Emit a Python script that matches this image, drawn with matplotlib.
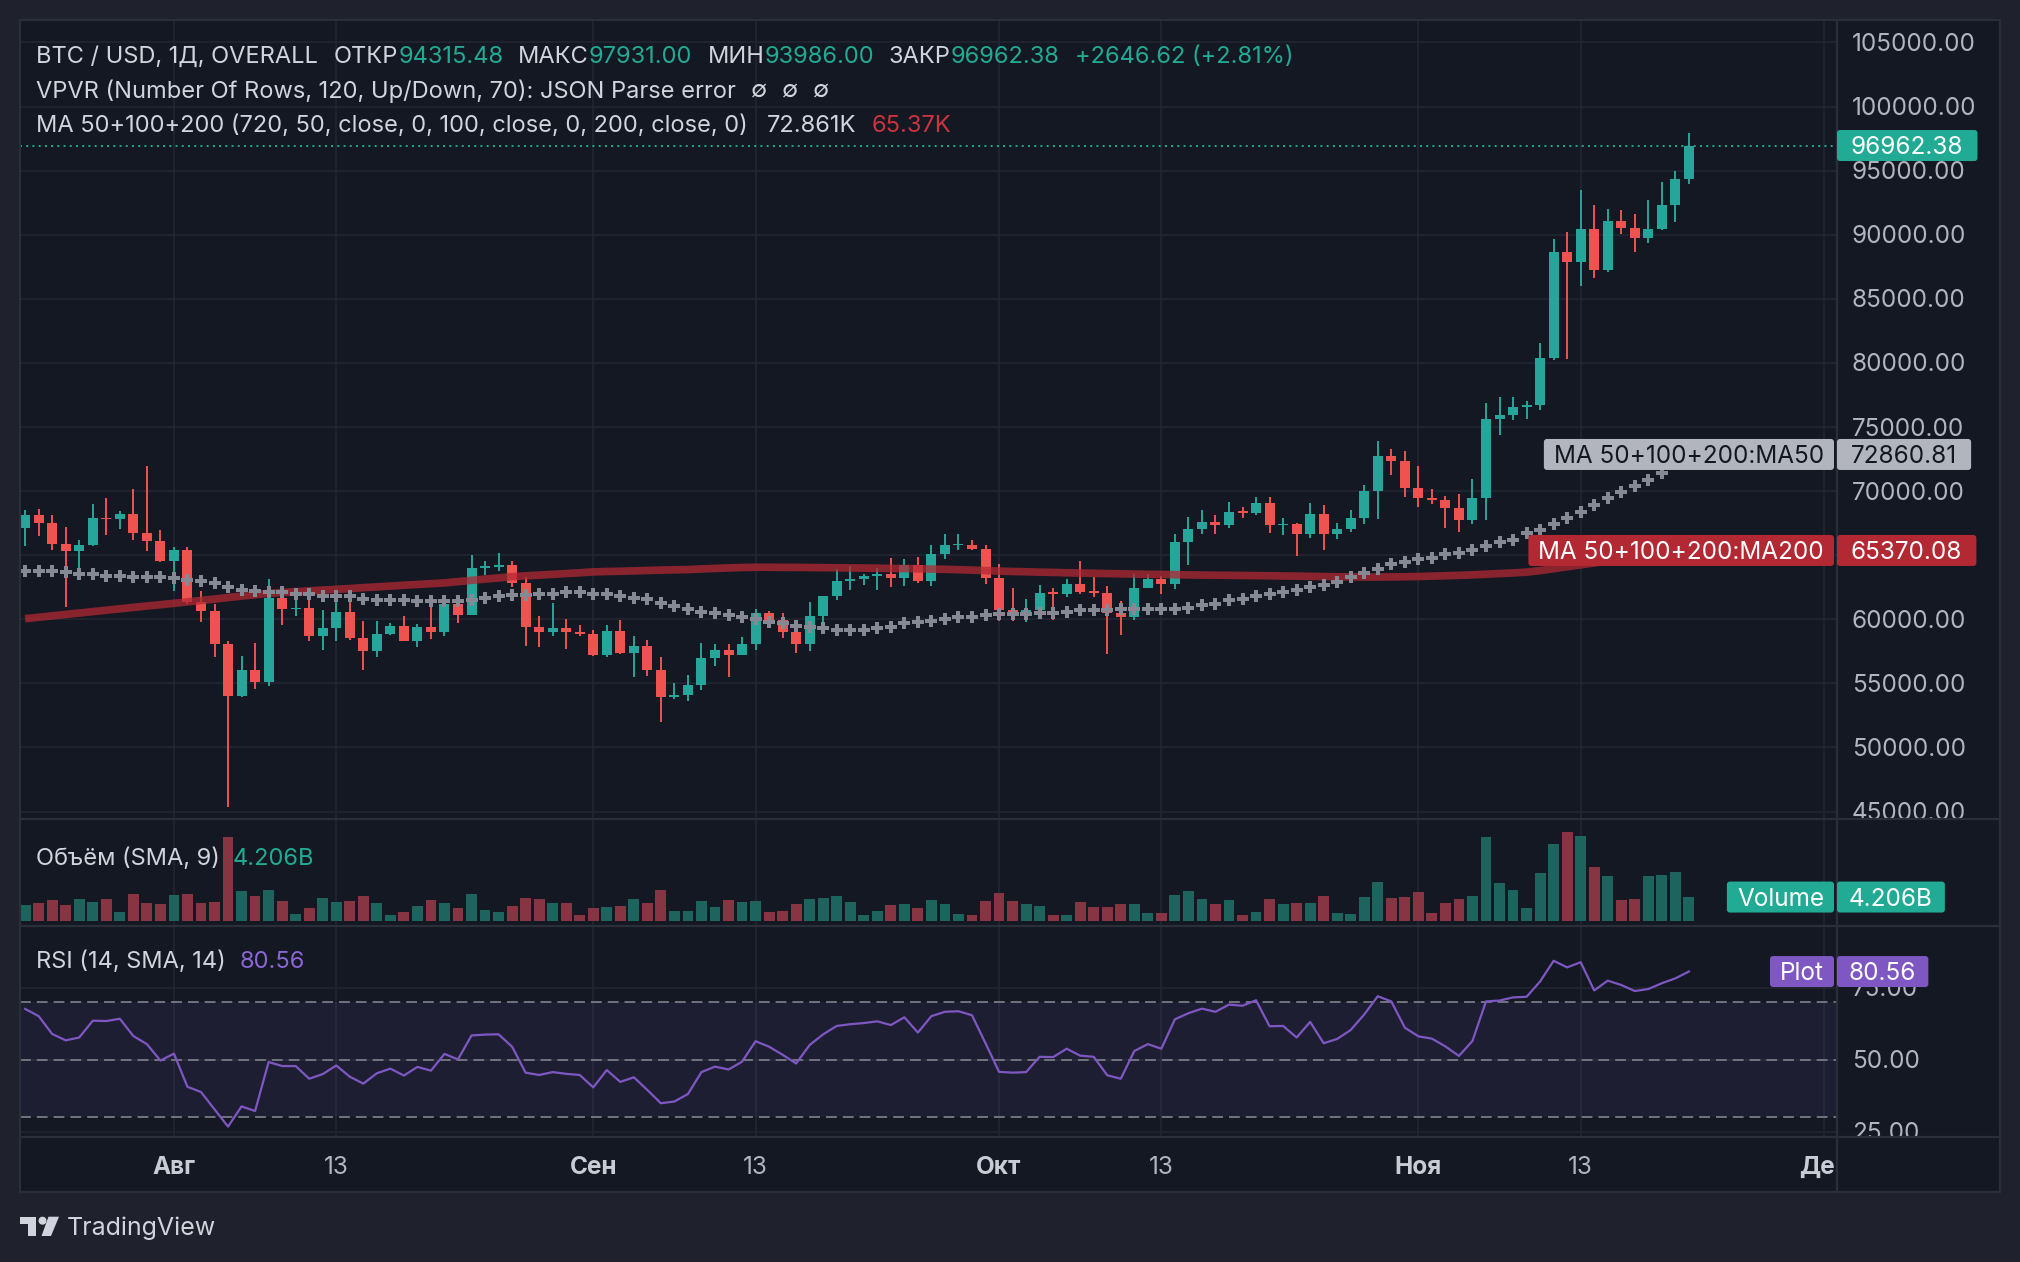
import numpy as np
import pandas as pd
import matplotlib
matplotlib.use("Agg")
import matplotlib.pyplot as plt
from matplotlib.patches import Rectangle, FancyBboxPatch, Circle, Polygon
from matplotlib.lines import Line2D
from matplotlib.transforms import IdentityTransform, offset_copy

W, H = 2020, 1262
FONT = ["Inter", "DejaVu Sans"]

# daily candles, 21 Jul 2024 .. 21 Nov 2024
dates = pd.date_range("2024-07-21", "2024-11-21", freq="D")

open_ = [
    67110, 68100, 67500, 65860, 65310, 65760, 67870, 67810, 68230, 66720, 66090,
    64530, 65370, 61380, 60630, 58050, 53990, 56070, 55080, 61670, 60780, 60860, 58670, 59320, 60600, 58570, 57500,
    58880, 59480, 58330, 59430, 58990, 61200, 60310, 64040, 64090, 64270, 62810, 59380, 58990, 59350, 59040,
    58860, 57240, 59120, 57400, 57940, 56070, 53910, 54120, 54900, 57010, 57630, 57240, 58100, 60520, 59980,
    59040, 58100, 60290, 61800, 62970, 63180, 63360, 63570, 63260, 64270, 63020, 65130, 65760, 65830, 65520,
    63260, 60760, 60600, 60760, 62080, 62000, 62790, 62160, 62080, 60520, 60210, 62470, 63180, 62790, 66070, 67080,
    67630, 67320, 68410, 68310, 69040, 67320, 67400, 66620, 68180, 66620, 67080, 67940, 69975, 72710, 72350,
    70240, 69455, 69300, 68675, 67740, 69455, 75600, 75910, 76540, 76700, 80370, 88650, 87870, 90440, 87240,
    91070, 90550, 89770, 90440, 92320, 94315.48,
]
high = [
    68490, 68570, 68100, 67240, 66220, 68960, 69500, 68440, 70130, 71930, 66930,
    65680, 65680, 62240, 61200, 58330, 57160, 58180, 63180, 61700, 61590, 61720, 60760, 61720, 61980, 59900, 59900,
    59740, 60290, 59640, 61720, 61800, 61460, 65030, 64580, 65210, 64580, 63280, 60290, 61300, 60050, 59580,
    59170, 59580, 59980, 58670, 58410, 57080, 55050, 55680, 58180, 58100, 58100, 58650, 60830, 60680, 60520,
    59350, 61380, 61850, 63960, 64190, 63570, 64040, 64820, 64740, 64900, 65830, 66620, 66690, 66150, 65760,
    64350, 62470, 61620, 62710, 62470, 63180, 64580, 63330, 62630, 61460, 63570, 63570, 63410, 66620, 68020, 68490,
    68100, 69120, 68800, 69510, 69580, 67940, 67550, 69040, 68880, 67550, 68490, 70440, 73880, 73260, 73100,
    71930, 70130, 69585, 69740, 70910, 76850, 77320, 77320, 77010, 81540, 89660, 90210, 93490, 92320, 92010,
    91930, 91620, 92710, 94110, 94970, 97931.00,
]
low = [
    65755, 66530, 65440, 60940, 63540, 65700, 66540, 67030, 66220, 65310, 64450,
    62190, 61200, 59820, 57080, 45390, 53910, 54530, 54770, 59530, 60240, 58280, 57630, 58310, 58410, 56070, 57080,
    58780, 58300, 57810, 58490, 58730, 59690, 60300, 63490, 63750, 62500, 57940, 57810, 58670, 57660, 58730,
    57160, 57080, 57290, 55520, 55600, 52010, 53750, 53600, 54510, 56380, 55520, 57200, 57630, 59350, 58570,
    57400, 57500, 59190, 61540, 62320, 62710, 62320, 62550, 62630, 62870, 62630, 64740, 65370, 65440, 62790,
    59900, 59900, 59820, 60290, 59980, 61770, 62010, 61770, 57320, 58800, 59980, 62450, 62010, 62400, 64270, 66620,
    66620, 67160, 67940, 68100, 66770, 66540, 64970, 66380, 65440, 66300, 66850, 67470, 67815, 71230, 69530,
    68750, 68990, 67110, 66800, 67420, 67740, 74380, 75520, 75600, 76300, 80240, 80310, 86020, 86620, 87110,
    90080, 88670, 89380, 90390, 91020, 93986.00,
]
close = [
    68100, 67500, 65860, 65310, 65760, 67870, 67810, 68230, 66720, 66090, 64530,
    65370, 61380, 60630, 58050, 53990, 56070, 55080, 61670, 60780, 60860, 58670, 59320, 60600, 58570, 57500, 58880,
    59480, 58330, 59430, 58990, 61200, 60310, 64040, 64090, 64270, 62810, 59380, 58990, 59350, 59040, 58860,
    57240, 59120, 57400, 57940, 56070, 53910, 54120, 54900, 57010, 57630, 57240, 58100, 60520, 59980, 59040,
    58100, 60290, 61800, 62970, 63180, 63360, 63570, 63260, 64270, 63020, 65130, 65760, 65830, 65520, 63260,
    60760, 60600, 60760, 62080, 62000, 62790, 62160, 62080, 60520, 60210, 62470, 63180, 62790, 66070, 67080, 67630,
    67320, 68410, 68310, 69040, 67320, 67400, 66620, 68180, 66620, 67080, 67940, 69975, 72710, 72350, 70240,
    69455, 69300, 68675, 67740, 69455, 75600, 75910, 76540, 76700, 80370, 88650, 87870, 90440, 87240, 91070,
    90550, 89770, 90440, 92320, 94315.76, 96962.38,
]
volume_b = [
    2.78, 3.14, 3.67, 2.78, 3.85, 3.32, 3.85, 1.54, 4.74, 3.14, 2.96,
    4.56, 4.74, 3.14, 3.32, 14.87, 5.27, 4.38, 5.45, 3.50, 1.18, 2.25, 4.03, 3.32, 3.50, 4.38, 3.14,
    1.01, 1.54, 2.61, 3.67, 3.14, 2.25, 4.74, 1.90, 1.54, 2.61, 4.03, 3.85, 3.14, 3.14, 1.01,
    2.25, 2.43, 2.61, 3.85, 3.14, 5.45, 1.72, 1.72, 3.50, 2.43, 3.67, 3.32, 3.50, 1.54, 1.72,
    2.96, 3.85, 4.03, 4.38, 3.32, 1.01, 1.72, 2.78, 2.96, 2.25, 3.67, 2.96, 1.18, 1.01, 3.50,
    4.92, 3.50, 2.96, 2.61, 1.01, 1.01, 3.32, 2.43, 2.43, 2.96, 2.96, 1.36, 1.36, 4.56, 5.27, 3.85,
    2.96, 3.67, 1.01, 1.54, 3.85, 2.96, 3.14, 3.14, 4.38, 1.36, 1.18, 4.21, 6.87, 4.03, 4.21,
    5.09, 1.36, 3.14, 3.85, 4.38, 14.87, 6.69, 5.45, 2.25, 8.47, 13.63, 15.76, 15.05, 9.54, 7.94,
    3.67, 3.85, 7.94, 8.12, 8.65, 4.206,
]
ma50 = [
    63800, 63800, 63750, 63700, 63500, 63500, 63400, 63400, 63300, 63300, 63300,
    63200, 63100, 63000, 62800, 62550, 62300, 62200, 62100, 62100, 62000, 62000, 61850, 61850, 61800, 61600, 61500,
    61500, 61500, 61450, 61450, 61450, 61450, 61500, 61700, 61850, 61900, 61900, 62000, 62000, 62100, 62100,
    62000, 62000, 61850, 61700, 61600, 61300, 61000, 60800, 60600, 60500, 60300, 60200, 60000, 59800, 59700,
    59500, 59400, 59300, 59200, 59200, 59200, 59300, 59400, 59700, 59800, 59900, 60000, 60200, 60200, 60300,
    60400, 60400, 60400, 60500, 60500, 60600, 60700, 60700, 60700, 60800, 60800, 60800, 60800, 60800, 60900, 61100,
    61200, 61500, 61600, 61800, 62000, 62100, 62300, 62500, 62700, 62900, 63300, 63600, 63900, 64300, 64500,
    64700, 64800, 65100, 65200, 65400, 65700, 66000, 66200, 66700, 67000, 67400, 67900, 68400, 68900, 69500,
    69900, 70400, 70900, 71400, 72100, 72860.81,
]
ma200 = [
    60050, 60160, 60270, 60380, 60490, 60600, 60710, 60820, 60930, 61040, 61140,
    61250, 61360, 61470, 61580, 61700, 61810, 61920, 62030, 62090, 62160, 62220, 62280, 62340, 62400, 62470, 62530,
    62590, 62660, 62720, 62780, 62840, 62940, 63040, 63140, 63230, 63330, 63390, 63450, 63510, 63570, 63630,
    63700, 63730, 63750, 63780, 63810, 63840, 63860, 63880, 63930, 63970, 64010, 64040, 64060, 64060, 64050,
    64050, 64040, 64030, 64020, 64010, 64000, 63990, 63970, 63960, 63940, 63920, 63900, 63870, 63840, 63800,
    63760, 63730, 63710, 63680, 63660, 63630, 63610, 63590, 63570, 63550, 63530, 63510, 63500, 63480, 63470, 63450,
    63440, 63430, 63420, 63410, 63400, 63380, 63370, 63350, 63340, 63320, 63310, 63300, 63300, 63310, 63320,
    63340, 63370, 63400, 63430, 63470, 63520, 63570, 63620, 63680, 63800, 63950, 64100, 64250, 64400, 64550,
    64700, 64830, 64960, 65090, 65230, 65370.08,
]
rsi = [
    67.6, 65.1, 58.9, 56.7, 57.7, 63.5, 63.4, 64.2, 58.2, 55.4, 49.7,
    52.1, 40.6, 38.8, 32.8, 26.8, 33.8, 32.2, 49.2, 47.8, 47.8, 43.4, 45.0, 48.0, 44.1, 41.7, 45.3,
    46.9, 44.5, 47.5, 46.2, 52.0, 50.1, 58.4, 58.7, 58.8, 54.5, 45.5, 44.7, 45.7, 45.1, 44.7,
    40.4, 46.4, 42.3, 43.9, 39.5, 34.9, 35.5, 38.1, 45.7, 47.6, 46.6, 49.3, 56.4, 54.5, 51.7,
    48.7, 55.1, 58.8, 61.7, 62.3, 62.7, 63.3, 62.0, 64.7, 59.4, 65.1, 66.6, 66.8, 65.4, 55.7,
    45.8, 45.5, 45.7, 51.0, 50.9, 53.8, 51.4, 51.0, 44.6, 43.4, 53.0, 55.4, 53.8, 64.0, 66.1, 67.7,
    66.6, 69.1, 68.7, 70.6, 61.6, 61.7, 57.7, 63.1, 55.7, 57.2, 60.3, 65.7, 72.0, 70.2, 61.1,
    58.1, 57.3, 54.6, 51.3, 56.5, 70.2, 70.5, 71.6, 71.8, 77.1, 84.3, 82.0, 83.8, 74.0, 77.4,
    75.9, 73.8, 74.5, 76.5, 78.2, 80.56,
]

price_ticks = list(range(45000, 105001, 5000))
rsi_ticks = [25, 50, 75]
rsi_levels = [30, 50, 70]
month_names = {8: "Авг", 9: "Сен", 10: "Окт", 11: "Ноя", 12: "Дек"}

BG = "#141823"
FRAME = "#1f222d"
BORDER = "#2a2e39"
GRID = "#222632"
TXT = "#d1d4dc"
AXTXT = "#b2b5be"
UP = "#26a69a"
DOWN = "#ef5350"
TEAL = "#22ab94"
VOL_UP = "#1d645e"
VOL_DOWN = "#873542"
PURPLE = "#7e57c2"

HEAD_FS = 17
AX_FS = 17.5

x = np.arange(len(dates))
o, h, l, c = (np.array(v, dtype=float) for v in (open_, high, low, close))
up = c >= o
XLIM = (-0.38, 133.95)

fig = plt.figure(figsize=(W / 100, H / 100), dpi=100, facecolor=FRAME)
renderer = fig.canvas.get_renderer()


def add_ax(left, top, right, bottom):
    ax = fig.add_axes([left / W, 1 - bottom / H, (right - left) / W, (bottom - top) / H])
    ax.set_facecolor(BG)
    ax.set_xticks([])
    ax.set_yticks([])
    for s in ax.spines.values():
        s.set_visible(False)
    return ax


ax_main = add_ax(20, 20, 1837, 818)
ax_vol = add_ax(20, 820, 1837, 925)
ax_rsi = add_ax(20, 927, 1837, 1137)
ax_time = add_ax(20, 1137, 1837, 1191)
sc_main = add_ax(1837, 20, 2000, 818)
sc_vol = add_ax(1837, 820, 2000, 925)
sc_rsi = add_ax(1837, 927, 2000, 1137)
sc_time = add_ax(1837, 1137, 2000, 1191)

for ax in (ax_main, ax_vol, ax_rsi, ax_time):
    ax.set_xlim(*XLIM)
for a, b, lim in ((ax_main, sc_main, (44500, 106755)), (ax_vol, sc_vol, (-0.76, 17.9)),
                  (ax_rsi, sc_rsi, (23.2, 96.0))):
    a.set_ylim(*lim)
    b.set_ylim(*lim)
ax_time.set_ylim(0, 1)

# time ticks
ext_dates = pd.date_range(dates[0], "2024-12-01", freq="D")
tick_pos = [i for i, d in enumerate(ext_dates) if d.day in (1, 13)]
tick_lab = [month_names[d.month] if d.day == 1 else str(d.day) for d in ext_dates if d.day in (1, 13)]

for ax in (ax_main, ax_vol, ax_rsi):
    for p in tick_pos:
        ax.axvline(p, color=GRID, lw=1.2, zorder=0)

main_lab_tr = offset_copy(sc_main.get_yaxis_transform(), fig=fig, y=-2, units="dots")
for p in price_ticks:
    ax_main.axhline(p, color=GRID, lw=1.2, zorder=0)
    sc_main.text(0.092, p, f"{p:.2f}", transform=main_lab_tr, va="center",
                 ha="left", color=AXTXT, fontsize=AX_FS, family=FONT, clip_on=True)
time_tr = offset_copy(ax_time.transData, fig=fig, y=-1, units="dots")
for p, lab in zip(tick_pos, tick_lab):
    ax_time.text(p, 0.46, lab, ha="center", va="center", transform=time_tr,
                 color=AXTXT if lab.isdigit() else "#c9ccd4", fontsize=AX_FS, family=FONT,
                 fontweight="normal" if lab.isdigit() else "bold", clip_on=True)

# candles
cols = np.where(up, UP, DOWN)
ax_main.vlines(x, l, h, colors=cols, lw=1.4, zorder=3)
ax_main.bar(x, np.maximum(np.abs(c - o), 130), bottom=np.minimum(o, c), width=0.74,
            color=cols, linewidth=0, zorder=4)
ax_main.plot(x, ma200, color="#b22833", alpha=0.75, lw=5.5, solid_capstyle="butt", zorder=5)
ax_main.plot(x, ma50, ls="none", marker="P", ms=8.5, color="#868993", mew=0, zorder=6)
ax_main.axhline(c[-1], color=TEAL, lw=1.4, ls=(0, (1.0, 2.2)), zorder=2)

# volume
ax_vol.bar(x, volume_b, width=0.8, color=np.where(up, VOL_UP, VOL_DOWN), linewidth=0, zorder=3)

# rsi
ax_rsi.axhspan(rsi_levels[0], rsi_levels[-1], color=PURPLE, alpha=0.1, lw=0, zorder=1)
rsi_lab_tr = offset_copy(sc_rsi.get_yaxis_transform(), fig=fig, y=-2, units="dots")
for v in rsi_ticks:
    ax_rsi.axhline(v, color=GRID, lw=1.2, zorder=0)
    sc_rsi.text(0.092, v, f"{v:.2f}", transform=rsi_lab_tr, va="center",
                ha="left", color=AXTXT, fontsize=AX_FS, family=FONT, clip_on=True)
for v in rsi_levels:
    ax_rsi.axhline(v, color="#787b86", lw=1.3, ls=(0, (6, 3.3)), zorder=2)
ax_rsi.plot(x, rsi, color=PURPLE, lw=1.6, zorder=4)


def pieces(x0, y, parts, size=HEAD_FS):
    xx = x0
    for s, col, gap in parts:
        xx += gap
        t = fig.text(xx / W, 1 - y / H, s, color=col, fontsize=size, family=FONT,
                     va="center", ha="left", zorder=8)
        xx += t.get_window_extent(renderer).width


def fmt_k(v):
    return f"{v / 1000:.3f}".rstrip("0").rstrip(".") + "K"


chg = c[-1] - c[-2]
pct = chg / c[-2] * 100
pieces(36, 57, [("BTC / USD, 1Д, OVERALL", TXT, 0), ("ОТКР", TXT, 16), (f"{o[-1]:.2f}", TEAL, 0),
                ("МАКС", TXT, 15), (f"{h[-1]:.2f}", TEAL, 0), ("МИН", TXT, 15), (f"{l[-1]:.2f}", TEAL, 0),
                ("ЗАКР", TXT, 15), (f"{c[-1]:.2f}", TEAL, 0), (f"{chg:+.2f} ({pct:+.2f}%)", TEAL, 15)])
pieces(36, 91, [("VPVR (Number Of Rows, 120, Up/Down, 70): JSON Parse error", TXT, 0),
                ("∅", TXT, 15), ("∅", TXT, 15), ("∅", TXT, 15)])
pieces(36, 126, [("MA 50+100+200 (720, 50, close, 0, 100, close, 0, 200, close, 0)", TXT, 0),
                 (fmt_k(ma50[-1]), TXT, 19), (fmt_k(ma200[-1]), "#cc3340", 15)])
pieces(36, 859, [("Объём (SMA, 9)", TXT, 0), (f"{volume_b[-1]:.3f}B", TEAL, 13)])
pieces(36, 962, [("RSI (14, SMA, 14)", TXT, 0), (f"{rsi[-1]:.2f}", "#8c66d6", 14)])


def tag(yd, s, fc, tc, x_left=None, x_right=None, pad=10, size=AX_FS):
    t = fig.text(0, (yd - 2) / H, s, color=tc, fontsize=size, family=FONT, va="center", ha="left", zorder=12)
    w = t.get_window_extent(renderer).width
    if x_left is None:
        x_left = x_right - w - 2 * pad
    if x_right is None:
        x_right = x_left + w + 2 * pad
    t.set_x((x_left + pad) / W)
    fig.add_artist(FancyBboxPatch((x_left, yd - 15.5), x_right - x_left, 31,
                                  boxstyle="round,pad=0,rounding_size=3", fc=fc, ec="none",
                                  transform=IdentityTransform(), zorder=11))


def ydisp(ax, v):
    return ax.transData.transform((0, v))[1]


yd = ydisp(ax_main, c[-1])
tag(yd, f"{c[-1]:.2f}", TEAL, "white", x_left=1837, pad=14)
yd = ydisp(ax_main, ma50[-1])
tag(yd, "MA 50+100+200:MA50", "#b2b5be", "#131722", x_right=1834)
tag(yd, f"{ma50[-1]:.2f}", "#b2b5be", "#131722", x_left=1837, pad=14)
yd = ydisp(ax_main, ma200[-1])
tag(yd, "MA 50+100+200:MA200", "#b22833", "white", x_right=1834)
tag(yd, f"{ma200[-1]:.2f}", "#b22833", "white", x_left=1837, pad=14)
yd = ydisp(ax_vol, volume_b[-1])
tag(yd, "Volume", TEAL, "white", x_right=1834)
tag(yd, f"{volume_b[-1]:.3f}B", TEAL, "white", x_left=1837, pad=12)
yd = ydisp(ax_rsi, rsi[-1])
tag(yd, "Plot", PURPLE, "white", x_right=1834)
tag(yd, f"{rsi[-1]:.2f}", PURPLE, "white", x_left=1837, pad=12)

# frame and pane separators
for y0 in (819, 926, 1137):
    fig.add_artist(Line2D([20, 2000], [H - y0, H - y0], color=BORDER, lw=1.6, transform=IdentityTransform(), zorder=9))
fig.add_artist(Line2D([1837, 1837], [H - 20, H - 1192], color=BORDER, lw=1.6, transform=IdentityTransform(), zorder=9))
fig.add_artist(Rectangle((20, H - 1192), 1980, 1172, fill=False, ec=BORDER, lw=1.6,
                         transform=IdentityTransform(), zorder=9))

# TradingView logo
LOGO = "#d1d4dc"
fig.add_artist(Rectangle((20, H - 1224), 16, 7.5, fc=LOGO, ec="none", transform=IdentityTransform(), zorder=9))
fig.add_artist(Rectangle((28, H - 1236), 8, 19, fc=LOGO, ec="none", transform=IdentityTransform(), zorder=9))
fig.add_artist(Circle((42.5, H - 1220.7), 4, fc=LOGO, ec="none", transform=IdentityTransform(), zorder=9))
fig.add_artist(Polygon([(48.5, H - 1216.7), (59, H - 1216.7), (51, H - 1236), (41.5, H - 1236)],
                       fc=LOGO, ec="none", transform=IdentityTransform(), zorder=9))
fig.text(67 / W, 1 - 1228 / H, "TradingView", color=LOGO, fontsize=18, family=FONT, va="center", ha="left")

fig.savefig("out.png", dpi=100, facecolor=FRAME)
